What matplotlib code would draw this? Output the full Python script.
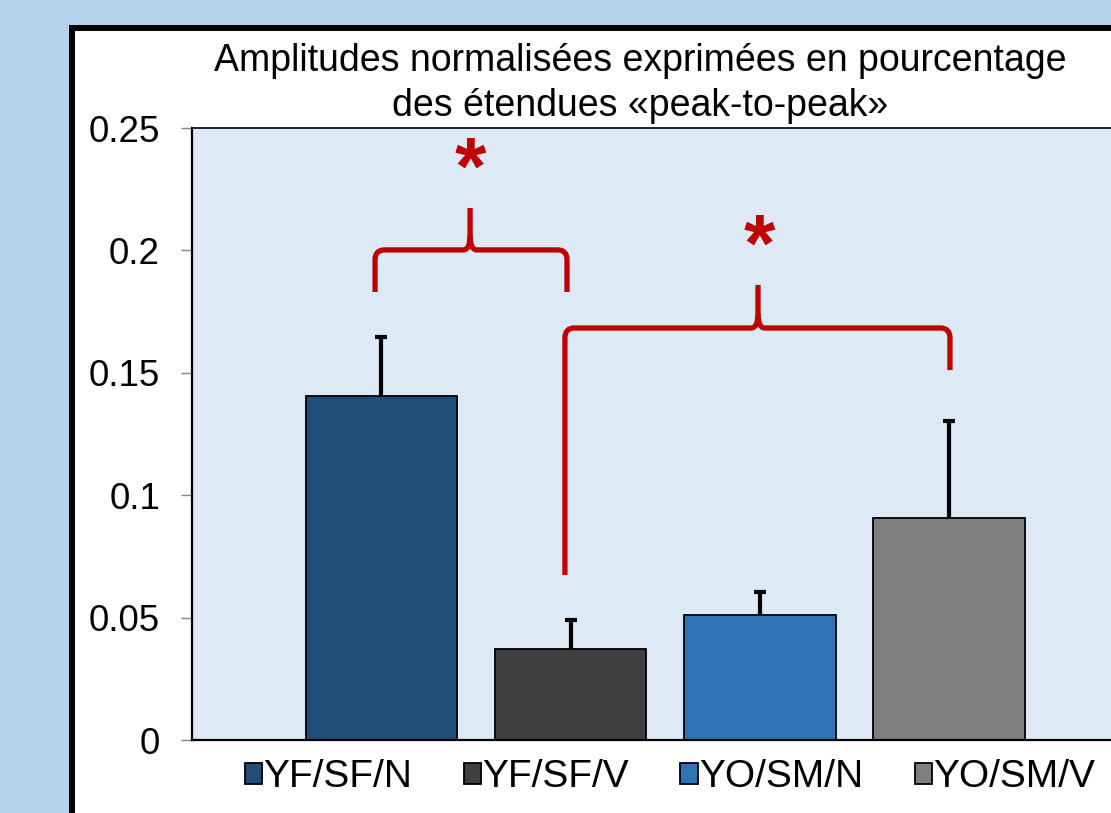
import matplotlib
matplotlib.use("Agg")
import matplotlib.pyplot as plt
from matplotlib.patches import Rectangle, PathPatch
from matplotlib.path import Path

plt.rcParams['font.family'] = ['Liberation Sans', 'DejaVu Sans']

# ---- data ----
categories = ["YF/SF/N", "YF/SF/V", "YO/SM/N", "YO/SM/V"]
values = [0.1405, 0.0372, 0.0510, 0.0905]
errors = [0.0240, 0.0118, 0.0095, 0.0398]
colors = ["#1f4e79", "#404040", "#2e75b6", "#7f7f7f"]
yticks = [0, 0.05, 0.1, 0.15, 0.2, 0.25]
ytick_labels = ["0", "0.05", "0.1", "0.15", "0.2", "0.25"]
title = "Amplitudes normalisées exprimées en pourcentage\ndes étendues «peak-to-peak»"
# braces: (x_left, x_right, x_mid, y_left_end, y_right_end, y_bar, y_tip)
braces = [
    (0.967, 1.981, 1.469, 0.183, 0.183, 0.2002, 0.2173),
    (1.970, 4.004, 2.990, 0.0674, 0.1511, 0.1683, 0.1859),
]
stars = [(1.469, 0.2318), (2.995, 0.2003)]

RED = "#c00000"
W, H = 1111, 813
fig = plt.figure(figsize=(W / 100, H / 100), dpi=100)
fig.patch.set_facecolor("#b4d2ea")

# white framed box
fig.patches.append(Rectangle((71.5 / W, -0.1), 1.2, 1 - 28 / H + 0.1,
                             transform=fig.transFigure, facecolor="white",
                             edgecolor="black", linewidth=4.3, zorder=-10))

ax = fig.add_axes([192 / W, 73 / H, (1138.5 - 192) / W, 612 / H])
ax.set_zorder(1)
ax.set_facecolor("#dde9f5")
x = list(range(1, len(categories) + 1))
bars = ax.bar(x, values, width=0.8, color=colors, edgecolor="black",
              linewidth=1.3, zorder=2)
eb = ax.errorbar(x, values, yerr=[[0] * len(errors), errors], fmt="none",
                 ecolor="black", elinewidth=3.0, capsize=4.4, capthick=3.0, zorder=3)
# hide the caps sitting on the bar tops (only upper error shown)
for cl in eb[1]:
    if all(abs(a - b) < 1e-12 for a, b in zip(cl.get_ydata(), values)):
        cl.set_visible(False)

ax.set_xlim(0, 5)
ax.set_ylim(0, 0.25)
ax.set_yticks(yticks)
ax.set_yticklabels(ytick_labels)
ax.set_xticks([])
ax.tick_params(axis="y", direction="out", length=8, width=1, color="#808080",
               labelsize=26.5, pad=15)
for s in ["left", "bottom"]:
    ax.spines[s].set_linewidth(1.6)
ax.spines["top"].set_linewidth(1.2)
ax.spines["right"].set_visible(False)

# braces
rx, ry = 0.05, 0.0040
rx2, ry2 = 0.035, 0.0060
for (xl, xr, xm, yl, yr, yb, yt) in braces:
    verts = [(xl, yl), (xl, yb - ry), (xl, yb), (xl + rx, yb),
             (xm - rx2, yb), (xm, yb), (xm, yb + ry2), (xm, yt)]
    codes = [Path.MOVETO, Path.LINETO, Path.CURVE3, Path.CURVE3,
             Path.LINETO, Path.CURVE3, Path.CURVE3, Path.LINETO]
    ax.add_patch(PathPatch(Path(verts, codes), fill=False, edgecolor=RED,
                           linewidth=3.8, capstyle="butt", joinstyle="round", zorder=4))
    verts = [(xm, yb + ry2), (xm, yb), (xm + rx2, yb), (xr - rx, yb),
             (xr, yb), (xr, yb - ry), (xr, yr)]
    codes = [Path.MOVETO, Path.CURVE3, Path.CURVE3, Path.LINETO,
             Path.CURVE3, Path.CURVE3, Path.LINETO]
    ax.add_patch(PathPatch(Path(verts, codes), fill=False, edgecolor=RED,
                           linewidth=3.8, capstyle="butt", joinstyle="round", zorder=4))

for (sx, sy) in stars:
    ax.text(sx, sy, "*", color=RED, fontsize=58, fontweight="bold",
            ha="center", va="center", zorder=5)

fig.text(640 / W, 1 - 83.5 / H, title, ha="center", va="center",
         fontsize=27, linespacing=1.33, multialignment="center")

fig.legend(bars, categories, loc="center", bbox_to_anchor=(670 / W, 1 - 777 / H),
           ncol=4, frameon=False, fontsize=28, handlelength=0.45,
           handleheight=0.45, handletextpad=0.03, columnspacing=1.32,
           borderaxespad=0, borderpad=0)

fig.savefig("out.png", dpi=100, facecolor=fig.get_facecolor())
